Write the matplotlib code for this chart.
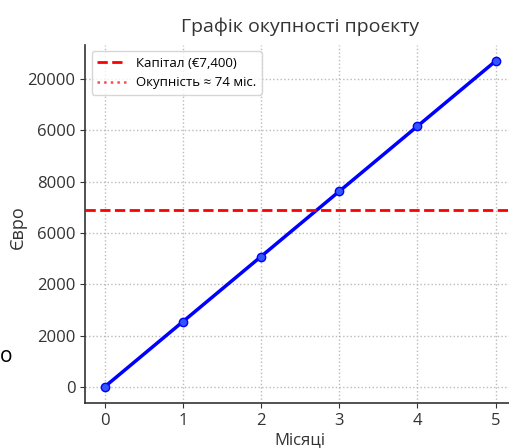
import matplotlib
matplotlib.use("Agg")
import matplotlib.pyplot as plt

plt.rcParams['font.family'] = ['Open Sans', 'DejaVu Sans']

# Data
months = [0, 1, 2, 3, 4, 5]
cumulative_profit = [0, 2540, 5080, 7620, 10160, 12700]
capital = 6900
payback_months = 74

# Tick positions and the labels as printed on the original
y_ticks = [0, 2000, 4000, 6000, 8000, 10000, 12000]
y_tick_labels = ['0', '2000', '2000', '6000', '8000', '6000', '20000']

fig = plt.figure(figsize=(5.09, 4.48), dpi=100)
ax = fig.add_axes([0.167, 0.10, 0.845, 0.80])

ax.plot(months, cumulative_profit, color='blue', linewidth=2.5,
        marker='o', markersize=6, markerfacecolor='#3355ff', markeredgecolor='blue')
ax.axhline(capital, color='red', linestyle='--', linewidth=2,
           label='Капітал (€7,400)')
ax.axvline(payback_months, color='red', linestyle=':', linewidth=1.8,
           alpha=0.7, label='Окупність ≈ 74 міс.')

ax.set_xlim(-0.25, 5.25)
ax.set_ylim(-635, 13335)
ax.set_xticks(months)
ax.set_yticks(y_ticks)
ax.set_yticklabels(y_tick_labels)
ax.tick_params(labelsize=12, colors='#333333', labelcolor='#333333')

ax.grid(True, linestyle=':', color='#bbbbbb', linewidth=1)
ax.spines['top'].set_visible(False)
ax.spines['right'].set_visible(False)
ax.spines['left'].set_color('#333333')
ax.spines['bottom'].set_color('#333333')
ax.spines['left'].set_linewidth(1.2)
ax.spines['bottom'].set_linewidth(1.2)

ax.set_title('Графік окупності проєкту', fontsize=14, color='#333333', pad=9)
ax.set_xlabel('Місяці', fontsize=12, color='#333333', labelpad=2)
ax.set_ylabel('Євро', fontsize=13, color='#333333')
ax.yaxis.set_label_coords(-0.135, 0.49)

ax.legend(loc='upper left', fontsize=9.5, frameon=True, edgecolor='#cccccc',
          fancybox=True, handlelength=2.2)

fig.text(0.0, 0.205, 'о', fontsize=15, color='black', ha='left', va='center')

fig.savefig('out.png', dpi=100)
